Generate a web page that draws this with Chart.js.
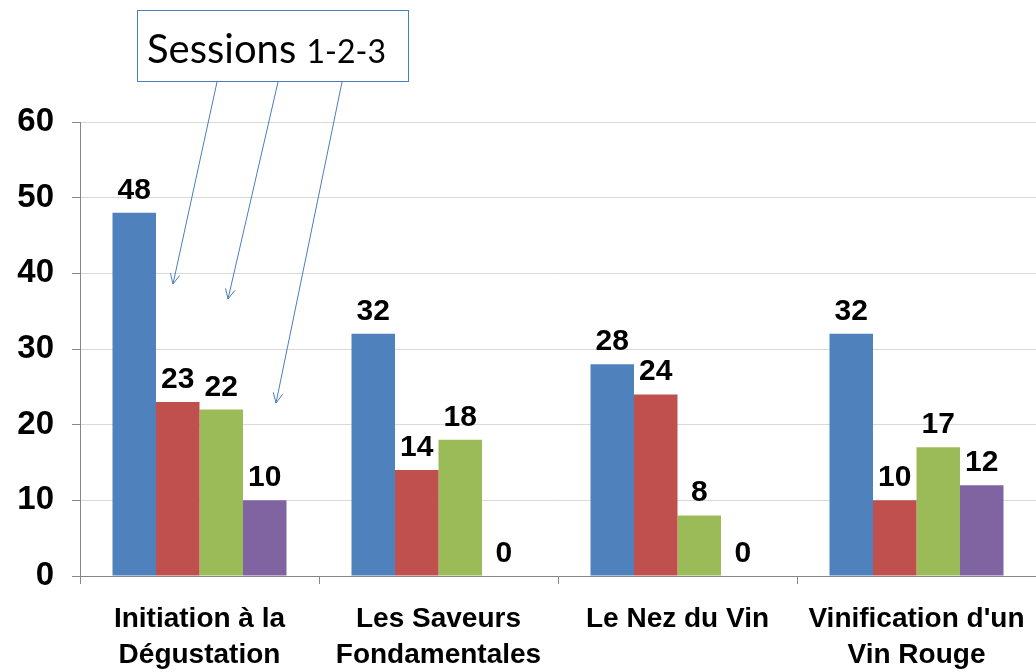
<!DOCTYPE html>
<html>
<head>
<meta charset="utf-8">
<script src="https://cdn.jsdelivr.net/npm/chart.js@4/dist/chart.umd.min.js"></script>
<style>
  html, body { margin: 0; padding: 0; background: #fff; }
  #wrap { width: 1036px; height: 672px; }
</style>
</head>
<body>
<div id="wrap"><canvas id="chart"></canvas></div>
<script>
// categories (x-axis labels, wrapped like the original)
const categories = [
  ["Initiation à la", "Dégustation"],
  ["Les Saveurs", "Fondamentales"],
  ["Le Nez du Vin"],
  ["Vinification d'un", "Vin Rouge"]
];

// one array per bar colour
const serie1 = [48, 32, 28, 32];
const serie2 = [23, 14, 24, 10];
const serie3 = [22, 18, 8, 17];
const serie4 = [10, 0, 0, 12];

const seriesNames = ["Série 1", "Série 2", "Série 3", "Série 4"];
const colors = ["#4F81BD", "#C0504D", "#9BBB59", "#8064A2"];

const yMin = 0;
const yMax = 60;
const yStep = 10;

const calloutTitle = "Sessions";
const calloutSub = "1-2-3";

// value labels above every bar
const valueLabels = {
  id: "valueLabels",
  afterDatasetsDraw(chart) {
    const ctx = chart.ctx;
    ctx.save();
    ctx.font = "bold 30px 'Liberation Sans', Arial, sans-serif";
    ctx.fillStyle = "#000";
    ctx.textAlign = "center";
    ctx.textBaseline = "alphabetic";
    chart.data.datasets.forEach((ds, i) => {
      chart.getDatasetMeta(i).data.forEach((bar, j) => {
        ctx.fillText(String(ds.data[j]), bar.x, bar.y - 14);
      });
    });
    ctx.restore();
  }
};

// the "Sessions 1-2-3" text box with its three arrows
const callout = {
  id: "callout",
  afterDraw(chart) {
    const ctx = chart.ctx;
    const blue = "#4A7EBB";
    ctx.save();

    // box
    ctx.fillStyle = "#fff";
    ctx.fillRect(137, 10, 271, 71);
    ctx.strokeStyle = blue;
    ctx.lineWidth = 1;
    ctx.strokeRect(137.5, 10.5, 271, 71);

    // text
    ctx.fillStyle = "#000";
    ctx.textBaseline = "alphabetic";
    ctx.textAlign = "left";
    ctx.font = "40px Lato, 'Open Sans', sans-serif";
    ctx.fillText(calloutTitle, 147, 63);
    const w = ctx.measureText(calloutTitle + " ").width;
    ctx.font = "32px Lato, 'Open Sans', sans-serif";
    ctx.fillText(calloutSub, 147 + w, 63);

    // arrows
    const arrows = [
      [217, 82, 173, 284],
      [278, 82, 228, 299],
      [342, 82, 276, 403]
    ];
    ctx.strokeStyle = blue;
    ctx.lineWidth = 1;
    arrows.forEach(([x1, y1, x2, y2]) => {
      ctx.beginPath();
      ctx.moveTo(x1, y1);
      ctx.lineTo(x2, y2);
      ctx.stroke();
      const a = Math.atan2(y2 - y1, x2 - x1);
      const len = 11;
      ctx.beginPath();
      ctx.moveTo(x2 - len * Math.cos(a - 0.45), y2 - len * Math.sin(a - 0.45));
      ctx.lineTo(x2, y2);
      ctx.lineTo(x2 - len * Math.cos(a + 0.45), y2 - len * Math.sin(a + 0.45));
      ctx.stroke();
    });
    ctx.restore();
  }
};

const allSeries = [serie1, serie2, serie3, serie4];

new Chart(document.getElementById("chart"), {
  type: "bar",
  data: {
    labels: categories,
    datasets: allSeries.map((vals, i) => ({
      label: seriesNames[i],
      data: vals,
      backgroundColor: colors[i],
      borderWidth: 0,
      categoryPercentage: 0.728,
      barPercentage: 1.0
    }))
  },
  options: {
    responsive: true,
    maintainAspectRatio: false,
    animation: false,
    layout: { padding: { top: 122, right: 0, bottom: 0, left: 0 } },
    plugins: {
      legend: { display: false },
      tooltip: { enabled: false }
    },
    scales: {
      x: {
        grid: {
          offset: true,
          drawOnChartArea: false,
          drawTicks: true,
          tickLength: 8,
          color: "#868686"
        },
        border: { color: "#868686", width: 1 },
        ticks: {
          color: "#000",
          padding: 17,
          maxRotation: 0,
          autoSkip: false,
          font: { family: "'Liberation Sans', Arial, sans-serif", size: 28, weight: "bold", lineHeight: 1.3 }
        },
        afterFit(scale) {
          scale.height = 96;
          scale.paddingLeft = 0;
          scale.paddingRight = 0;
        }
      },
      y: {
        min: yMin,
        max: yMax,
        grid: {
          color: "#D9D9D9",
          tickLength: 8,
          tickColor: "#868686"
        },
        border: { color: "#868686", width: 1 },
        ticks: {
          stepSize: yStep,
          color: "#000",
          padding: 18,
          font: { family: "'Liberation Sans', Arial, sans-serif", size: 33, weight: "bold" }
        },
        afterFit(scale) { scale.width = 80; }
      }
    }
  },
  plugins: [valueLabels, callout]
});
</script>
</body>
</html>
